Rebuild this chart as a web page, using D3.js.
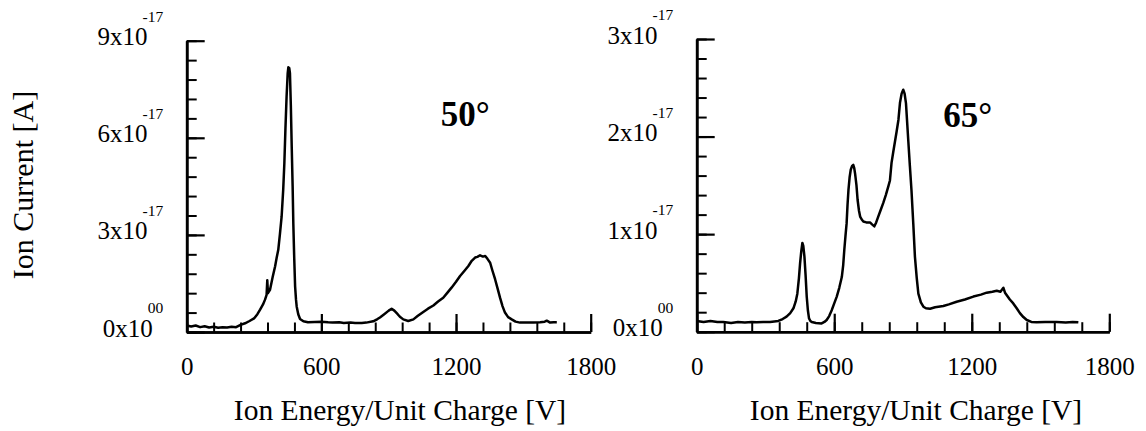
<!DOCTYPE html>
<html>
<head>
<meta charset="utf-8">
<script src="https://cdn.jsdelivr.net/npm/d3@7"></script>
<style>
  body { margin: 0; background: #fff; }
  svg { display: block; }
  text { font-family: "Liberation Serif", "Times New Roman", serif; fill: #000; }
</style>
</head>
<body>
<svg id="chart" width="1146" height="431"></svg>
<script>
// ion energy [V] and ion current [1e-17 A]
const energy50 = [0, 20, 40, 60, 80, 100, 120, 140, 160, 180, 200, 220, 240, 260, 280, 300, 315, 327, 340, 349,
  356, 359, 362, 371, 383, 394, 401, 408, 415, 423, 430, 435, 440, 445, 450, 453, 457, 460, 464, 468,
  472, 475, 479, 483, 487, 490, 497, 505, 520, 540, 570, 600, 630, 650, 680, 700, 730, 750, 780, 800,
  831, 850, 861, 880, 900, 913, 925, 940, 950, 965, 987, 1010, 1030, 1054, 1075, 1099, 1120, 1143, 1160, 1180,
  1200, 1218, 1235, 1255, 1270, 1285, 1295, 1307, 1320, 1330, 1340, 1352, 1362, 1374, 1385, 1396, 1407, 1418, 1432, 1448,
  1465, 1485, 1515, 1545, 1575, 1595, 1604, 1612, 1619, 1635, 1649];
const current50 = [0.2, 0.17, 0.2, 0.15, 0.18, 0.14, 0.16, 0.13, 0.15, 0.14, 0.16, 0.15, 0.22, 0.27, 0.34, 0.42, 0.55, 0.69, 0.85, 1.0,
  1.15, 1.6, 1.2, 1.3, 1.7, 2.03, 2.3, 2.54, 3.0, 3.57, 4.4, 5.2, 6.3, 7.27, 8.0, 8.18, 8.15, 8.0, 7.0, 5.7,
  4.5, 3.36, 2.3, 1.41, 1.0, 0.79, 0.55, 0.4, 0.33, 0.3, 0.31, 0.32, 0.3, 0.29, 0.3, 0.28, 0.29, 0.28, 0.28, 0.29,
  0.33, 0.4, 0.45, 0.55, 0.66, 0.72, 0.66, 0.55, 0.47, 0.39, 0.34, 0.39, 0.5, 0.62, 0.72, 0.82, 0.94, 1.06, 1.2, 1.37,
  1.55, 1.73, 1.87, 2.04, 2.2, 2.3, 2.32, 2.37, 2.33, 2.35, 2.26, 2.14, 1.9, 1.63, 1.35, 1.06, 0.8, 0.6, 0.46, 0.39,
  0.32, 0.29, 0.29, 0.29, 0.3, 0.32, 0.35, 0.32, 0.29, 0.3, 0.3];

// same for the 65 deg spectrum
const energy65 = [0, 30, 60, 90, 116, 150, 180, 210, 240, 262, 290, 320, 356, 375, 392, 408, 422, 432, 439, 446,
  451, 456, 461, 465, 470, 475, 480, 485, 490, 496, 502, 520, 545, 557, 567, 578, 589, 600, 611, 622,
  633, 639, 644, 649, 654, 658, 662, 667, 672, 678, 683, 687, 691, 697, 702, 708, 713, 720, 727, 740,
  756, 765, 775, 783, 792, 803, 814, 825, 836, 843, 850, 858, 865, 872, 880, 887, 894, 901, 907, 913,
  918, 923, 930, 937, 945, 952, 960, 967, 978, 989, 1000, 1018, 1040, 1076, 1100, 1134, 1170, 1207, 1240, 1265,
  1290, 1309, 1325, 1338, 1345, 1352, 1366, 1381, 1396, 1410, 1425, 1440, 1460, 1483, 1520, 1570, 1610, 1640, 1665];
const current65 = [0.11, 0.1, 0.11, 0.1, 0.1, 0.09, 0.1, 0.095, 0.1, 0.096, 0.1, 0.1, 0.11, 0.13, 0.154, 0.19, 0.24, 0.31, 0.39, 0.55,
  0.7, 0.82, 0.91, 0.88, 0.77, 0.58, 0.36, 0.22, 0.137, 0.11, 0.099, 0.09, 0.085, 0.1, 0.12, 0.16, 0.22, 0.29, 0.36, 0.45,
  0.56, 0.68, 0.84, 0.98, 1.11, 1.3, 1.45, 1.58, 1.66, 1.7, 1.71, 1.68, 1.62, 1.5, 1.35, 1.24, 1.18, 1.15, 1.13, 1.12,
  1.12, 1.1, 1.08, 1.12, 1.18, 1.25, 1.32, 1.4, 1.49, 1.55, 1.73, 1.85, 1.95, 2.05, 2.17, 2.35, 2.44, 2.48, 2.44, 2.34,
  2.15, 1.96, 1.7, 1.45, 1.1, 0.77, 0.55, 0.39, 0.3, 0.256, 0.24, 0.236, 0.25, 0.263, 0.28, 0.307, 0.33, 0.36, 0.38, 0.4,
  0.41, 0.42, 0.41, 0.45, 0.4, 0.376, 0.33, 0.29, 0.24, 0.19, 0.15, 0.12, 0.1, 0.096, 0.1, 0.1, 0.095, 0.1, 0.096];

const xMajor = [0, 600, 1200, 1800];
const yMajor50 = [0, 3, 6, 9];
const yMajor65 = [0, 1, 2, 3];
const yBase50 = ['0x10', '3x10', '6x10', '9x10'];
const yBase65 = ['0x10', '1x10', '2x10', '3x10'];
const yExp = ['00', '-17', '-17', '-17'];

const svg = d3.select('#chart');

const panels = [
  { energy: energy50, current: current50, yMajor: yMajor50, yBase: yBase50, yMinorStep: 0.6,
    left: 186.7, right: 590.7, top: 40.7, bottom: 332, title: '50°', titleAt: [1132, 6.36], xTitleX: 400 },
  { energy: energy65, current: current65, yMajor: yMajor65, yBase: yBase65, yMinorStep: 0.2,
    left: 696.7, right: 1109.3, top: 39, bottom: 331.7, title: '65°', titleAt: [1076, 2.1], xTitleX: 916 }
];

function styleAxis(sel, width) {
  sel.select('.domain').attr('stroke', '#000').attr('stroke-width', 2.6);
  sel.selectAll('.tick line').attr('stroke', '#000').attr('stroke-width', width);
}

function drawPanel(p) {
  const yMax = p.yMajor[p.yMajor.length - 1];
  const x = d3.scaleLinear().domain([0, 1800]).range([p.left, p.right]);
  const y = d3.scaleLinear().domain([0, yMax]).range([p.bottom, p.top]);
  const g = svg.append('g');

  // x axis: minor then major ticks, both pointing up into the plot
  g.append('g')
    .attr('transform', `translate(0,${p.bottom})`)
    .call(d3.axisBottom(x).tickValues(d3.range(0, 1801, 120)).tickSizeInner(-9.5).tickSizeOuter(0).tickFormat(''))
    .call(s => styleAxis(s, 2));

  const xAxis = g.append('g')
    .attr('transform', `translate(0,${p.bottom})`)
    .call(d3.axisBottom(x).tickValues(xMajor).tickSizeInner(-18).tickSizeOuter(0).tickFormat(d3.format('d')))
    .call(s => styleAxis(s, 2.2));
  xAxis.selectAll('.tick text')
    .attr('y', 43).attr('dy', 0)
    .attr('font-size', 25)
    .attr('font-family', '"Liberation Serif", serif');

  // y axis, ticks pointing right
  g.append('g')
    .attr('transform', `translate(${p.left},0)`)
    .call(d3.axisLeft(y).tickValues(d3.range(0, yMax + 1e-6, p.yMinorStep)).tickSizeInner(-10).tickSizeOuter(0).tickFormat(''))
    .call(s => styleAxis(s, 2));

  g.append('g')
    .attr('transform', `translate(${p.left},0)`)
    .call(d3.axisLeft(y).tickValues(p.yMajor).tickSizeInner(-18).tickSizeOuter(0).tickFormat(''))
    .call(s => styleAxis(s, 2.2));

  // y tick labels like 3x10^-17
  const lab = g.selectAll('text.ylab')
    .data(p.yMajor)
    .join('text')
    .attr('class', 'ylab')
    .attr('x', p.left - 23.5)
    .attr('y', d => y(d) + 4.5)
    .attr('text-anchor', 'end');
  lab.append('tspan')
    .attr('font-size', 25)
    .text((d, i) => p.yBase[i]);
  lab.append('tspan')
    .attr('font-size', 15.5)
    .attr('dx', -5)
    .attr('dy', -23.5)
    .text((d, i) => yExp[i]);

  // spectrum
  const line = d3.line()
    .x(d => x(d[0]))
    .y(d => y(d[1]));

  g.append('path')
    .datum(d3.zip(p.energy, p.current))
    .attr('d', line)
    .attr('fill', 'none')
    .attr('stroke', '#000')
    .attr('stroke-width', 2.5)
    .attr('stroke-linejoin', 'round');

  g.append('text')
    .attr('x', x(p.titleAt[0]))
    .attr('y', y(p.titleAt[1]))
    .attr('font-size', 35)
    .attr('font-weight', 'bold')
    .text(p.title);

  g.append('text')
    .attr('x', p.xTitleX)
    .attr('y', 420)
    .attr('text-anchor', 'middle')
    .attr('font-size', 29.5)
    .text('Ion Energy/Unit Charge [V]');
}

panels.forEach(drawPanel);

svg.append('text')
  .attr('transform', 'translate(33,185) rotate(-90)')
  .attr('text-anchor', 'middle')
  .attr('font-size', 30)
  .text('Ion Current [A]');
</script>
</body>
</html>
